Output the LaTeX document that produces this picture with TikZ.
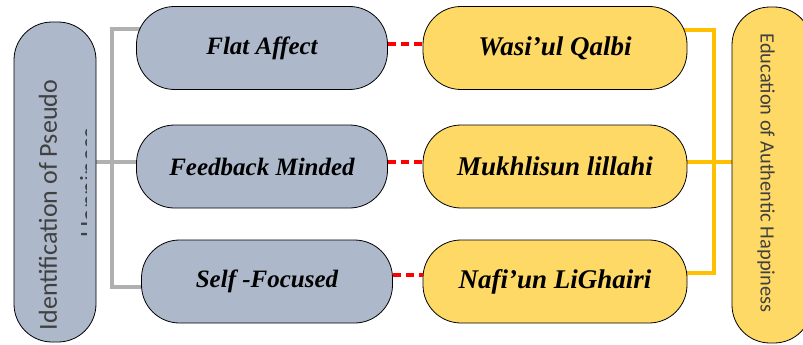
\documentclass[tikz,border=0pt]{standalone}
\usepackage{fontspec}
\usepackage{tikz}
\usetikzlibrary{positioning, backgrounds}
\newfontfamily\boxfont{Liberation Serif}
\newfontfamily\sidefont{Carlito}
\definecolor{slate}{HTML}{ADB9CA}
\definecolor{sand}{HTML}{FFD966}
\definecolor{amber}{HTML}{FFC000}
\definecolor{linegray}{HTML}{B0B0B0}
\definecolor{inkgray}{HTML}{404040}

\begin{document}
\begin{tikzpicture}[x=1pt, y=-1pt,
    pill/.style={draw=black, line width=0.8pt, rounded corners=38pt, inner sep=0pt},
    graypill/.style={pill, fill=slate, minimum width=251pt, minimum height=83pt,
      font=\boxfont\bfseries\itshape\fontsize{25}{30}\selectfont},
    yellowpill/.style={pill, fill=sand, minimum width=264pt, minimum height=83pt,
      font=\boxfont\bfseries\itshape\fontsize{27}{32}\selectfont},
    sidetext/.style={text=inkgray, inner sep=0pt},
    grayline/.style={draw=linegray, line width=3.5pt},
    yellowline/.style={draw=amber, line width=3.5pt},
    redline/.style={draw=red, line width=3.5pt, dash pattern=on 8pt off 5pt}]
  \useasboundingbox (0,0) rectangle (803,345);
  \clip (0,0) rectangle (803,345);

  % Left and right side boxes
  \node[pill, fill=slate, minimum width=82pt, minimum height=320pt] at (55,182) (pseudo) {};
  \node[pill, fill=sand, minimum width=80pt, minimum height=336pt] at (772,175) (authentic) {};

  % Side texts
  \node[sidetext, rotate=90, font=\sidefont\fontsize{26}{30}\selectfont] at (48,205) (pseudotxt) {Identification of Pseudo};
  \begin{scope}
    \clip (60,20) rectangle (86,340);
    \node[sidetext, rotate=90, font=\sidefont\fontsize{26}{30}\selectfont] at (91,183) (pseudotxtb) {Happiness};
  \end{scope}
  \node[sidetext, rotate=-90, font=\sidefont\fontsize{20.4}{24}\selectfont] at (766,173) (authtxt) {Education of Authentic Happiness};

  % Pseudo happiness traits
  \node[graypill] at (262,48) (flat) {Flat Affect};
  \node[graypill] at (262,166.5) (feedback) {Feedback Minded};
  \node[graypill] at (267,281.5) (selffoc) {Self -Focused};

  % Authentic happiness traits
  \node[yellowpill] at (555,48) (wasi) {Wasi’ul Qalbi};
  \node[yellowpill] at (555,166.5) (mukhlis) {Mukhlisun lillahi};
  \node[yellowpill] at (555,281.5) (nafi) {Nafi’un LiGhairi};

  \coordinate (gtop) at (112,29);
  \coordinate (gbot) at (112,287);
  \coordinate (ytop) at (714,30);
  \coordinate (ybot) at (714,273);

  \begin{scope}[on background layer]
    \draw[grayline] (pseudo.east |- feedback.west) ++(0,-4.5) -- ([yshift=4.5pt, xshift=4pt]feedback.west);
    \draw[grayline] ([yshift=19pt, xshift=6pt]flat.west) -- (gtop) -- (gbot) -- ([yshift=-5.5pt, xshift=4pt]selffoc.west);
    \draw[yellowline] ([yshift=18pt, xshift=-6pt]wasi.east) -- (ytop) -- (ybot) -- ([yshift=8.5pt, xshift=-4pt]nafi.east);
    \draw[yellowline] ([yshift=4.5pt, xshift=-4pt]mukhlis.east) -- ([yshift=4.5pt, xshift=4pt]authentic.west |- mukhlis.east);
  \end{scope}

  \draw[redline] ([yshift=4pt]flat.east) -- ([yshift=4pt]wasi.west);
  \draw[redline] ([yshift=4.5pt]feedback.east) -- ([yshift=4.5pt]mukhlis.west);
  \draw[redline] ([yshift=6.5pt]selffoc.east) -- ([yshift=6.5pt]nafi.west);
\end{tikzpicture}
\end{document}
